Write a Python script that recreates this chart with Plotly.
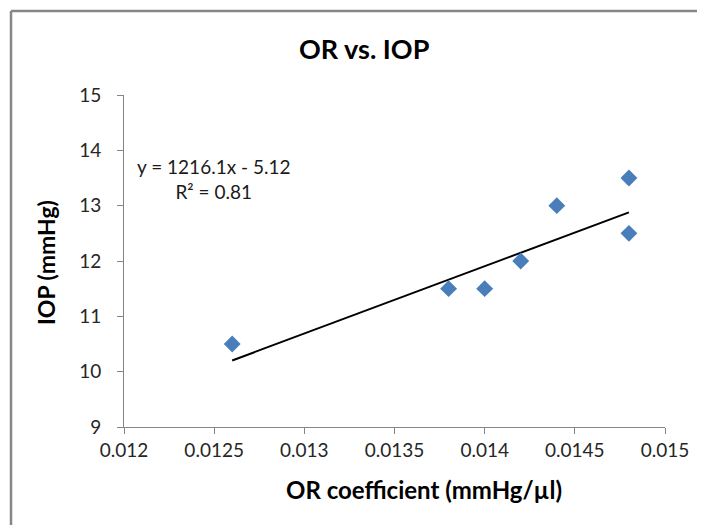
import plotly.graph_objects as go

# Data
or_coeff = [0.0126, 0.0138, 0.0140, 0.0142, 0.0144, 0.0148, 0.0148]
iop = [10.5, 11.5, 11.5, 12.0, 13.0, 13.5, 12.5]
slope = 1216.1
intercept = -5.12
r2 = 0.81
x_ticks = [0.012, 0.0125, 0.013, 0.0135, 0.014, 0.0145, 0.015]
x_tick_labels = ["0.012", "0.0125", "0.013", "0.0135", "0.014", "0.0145", "0.015"]
y_ticks = [9, 10, 11, 12, 13, 14, 15]

trend_x = [min(or_coeff), max(or_coeff)]
trend_y = [slope * v + intercept for v in trend_x]

FONT = "Lato, Open Sans, sans-serif"
OFF = 8  # page body margin
W, H = 705 - OFF, 525 - OFF
L, R, T, B = 124 - OFF, 40, 95 - OFF, 106 - OFF
pw, ph = W - L - R, H - T - B


def px_x(px):
    """page pixel -> paper x"""
    return (px - OFF - L) / pw


def px_y(py):
    """page pixel -> paper y"""
    return (H - B - (py - OFF)) / ph


fig = go.Figure()
fig.add_trace(go.Scatter(x=trend_x, y=trend_y, mode="lines",
                         line=dict(color="black", width=2), showlegend=False,
                         hoverinfo="skip"))
fig.add_trace(go.Scatter(x=or_coeff, y=iop, mode="markers",
                         marker=dict(symbol="diamond", size=13, color="#4A7EBB"),
                         showlegend=False))

# chart border (left and top visible)
bx, by = px_x(11), px_y(11)
fig.add_shape(type="line", xref="paper", yref="paper", x0=bx, x1=bx, y0=by, y1=px_y(540),
              line=dict(color="#868686", width=2.5))
fig.add_shape(type="line", xref="paper", yref="paper", x0=bx, x1=px_x(720), y0=by, y1=by,
              line=dict(color="#868686", width=2.5))

# trendline equation
fig.add_annotation(xref="paper", yref="paper", x=px_x(213), y=px_y(179),
                   xanchor="center", yanchor="middle",
                   text=f"y = {slope}x - {abs(intercept)}<br>R² = {r2}", showarrow=False,
                   align="center", font=dict(family=FONT, size=19, color="#1a1a1a"))

# titles
fig.add_annotation(xref="paper", yref="paper", x=px_x(364), y=px_y(48),
                   xanchor="center", yanchor="middle", showarrow=False,
                   text="<b>OR vs. IOP</b>", font=dict(family=FONT, size=27, color="black"))
fig.add_annotation(xref="paper", yref="paper", x=px_x(424), y=px_y(489),
                   xanchor="center", yanchor="middle", showarrow=False,
                   text="<b>OR coefficient (mmHg/µl)</b>", font=dict(family=FONT, size=24, color="black"))
fig.add_annotation(xref="paper", yref="paper", x=px_x(46), y=px_y(263),
                   xanchor="center", yanchor="middle", showarrow=False, textangle=-90,
                   text="<b>IOP (mmHg)</b>", font=dict(family=FONT, size=23, color="black"))

fig.update_layout(
    width=W, height=H,
    margin=dict(l=L, r=R, t=T, b=B),
    paper_bgcolor="white", plot_bgcolor="white",
    xaxis=dict(range=[0.012, 0.015], tickvals=x_ticks, ticktext=x_tick_labels,
               showgrid=False, zeroline=False, showline=True, linecolor="#868686", linewidth=1,
               ticks="outside", ticklen=6, tickcolor="#868686", ticklabelstandoff=0,
               tickfont=dict(family=FONT, size=19, color="#262626")),
    yaxis=dict(range=[9, 15], tickvals=y_ticks,
               showgrid=False, zeroline=False, showline=True, linecolor="#868686", linewidth=1,
               ticks="outside", ticklen=6, tickcolor="#868686", ticklabelstandoff=12,
               tickfont=dict(family=FONT, size=19, color="#262626")),
)

fig.write_html("out.html")
